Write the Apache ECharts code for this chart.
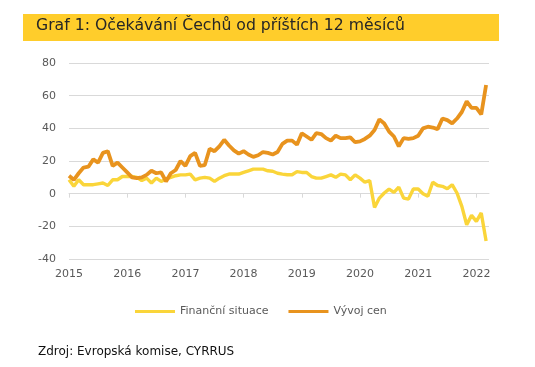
<!DOCTYPE html>
<html>
<head>
<meta charset="utf-8">
<script src="https://cdn.jsdelivr.net/npm/echarts@6/dist/echarts.min.js"></script>
<style>
html,body{margin:0;padding:0;background:#fff;}
#chart{width:535px;height:367px;}
</style>
</head>
<body>
<div id="chart"></div>
<script>
// Monthly data, Jan 2015 – Mar 2022
const startYear = 2015;
const yearLabels = [2015, 2016, 2017, 2018, 2019, 2020, 2021, 2022];
const yTicks = [-40, -20, 0, 20, 40, 60, 80];

const financniSituace = [
  8.5, 4.5, 8.5, 5.5, 5.5, 5.5, 6, 6.5, 5, 8.5, 8.5, 10.5,
  10.5, 10.5, 10, 8, 9.5, 6.5, 9.5, 7.5, 9, 10, 11, 11.5,
  11.5, 12, 8.5, 9.5, 10, 9.5, 7.5, 9.5, 11, 12, 12, 12,
  13, 14, 15, 15, 15, 14, 13.7, 12.5, 12, 11.6, 11.6, 13.5,
  13, 13, 10.5, 9.5, 9.5, 10.5, 11.5, 10, 12, 11.5, 8.5, 11.5,
  9.5, 7, 8, -8.5, -2.7, 0.4, 2.8, 0.8, 4, -2.7, -3.3, 2.9,
  2.9, 0, -1.6, 7, 5, 4.5, 3, 5.5, 0.4, -7.8, -19, -13.3,
  -17, -11.8, -29
];

const vyvojCen = [
  11, 8.5, 12.5, 16, 16.5, 21, 19, 25, 26, 17, 19, 16,
  13, 10, 9.5, 10, 11.5, 14, 12.5, 13, 7.5, 12.5, 14.5, 20,
  17, 23, 25, 17, 17.5, 27.5, 26, 29, 33, 29.5, 26.5, 24.5,
  26, 24, 22.5, 23.5, 25.5, 25, 24, 25.5, 30.5, 32.5, 32.5, 30,
  37, 35, 33, 37, 36.5, 34, 32.5, 35.5, 34, 34, 34.5, 31.5,
  32, 33.5, 35.5, 39, 45.5, 43, 38, 35, 29, 34, 33.5, 34,
  35.5, 40, 41, 40.5, 39.5, 46, 45, 43, 46, 50, 56.5, 52.5,
  52.5, 48.5, 66.5
];

const seriesNames = ['Finanční situace', 'Vývoj cen'];

const toPairs = arr => arr.map((v, i) => [i, v]);
const yearTickPositions = yearLabels.map(y => (y - startYear) * 12);

const chart = echarts.init(document.getElementById('chart'), null, {renderer: 'canvas'});
const FONT = 'DejaVu Sans';
const axisCommon = {
  type: 'value',
  min: 0,
  max: 86.6,
  position: 'bottom',
  splitLine: {show: false}
};

chart.setOption({
  backgroundColor: '#ffffff',
  animation: false,
  graphic: [{
    type: 'rect',
    shape: {x: 23, y: 14, width: 476, height: 27},
    style: {fill: '#FFCD2B'},
    z: -1
  }],
  title: [{
    text: 'Graf 1: Očekávání Čechů od příštích 12 měsíců',
    left: 31,
    top: 13,
    textStyle: {fontFamily: FONT, fontSize: 15.7, fontWeight: 'normal', color: '#262626'}
  }, {
    text: 'Zdroj: Evropská komise, CYRRUS',
    left: 33,
    top: 341,
    textStyle: {fontFamily: FONT, fontSize: 12, fontWeight: 'normal', color: '#111111'}
  }],
  legend: {
    data: seriesNames,
    icon: 'rect',
    left: 130,
    top: 301,
    itemWidth: 40,
    itemHeight: 3,
    itemGap: 20,
    textStyle: {fontFamily: FONT, fontSize: 11, color: '#595959'}
  },
  grid: {left: 69, right: 46, top: 63, height: 196, containLabel: false},
  xAxis: [
    Object.assign({}, axisCommon, {
      axisLine: {show: false, onZero: false},
      axisTick: {show: false},
      axisLabel: {
        show: true,
        customValues: yearTickPositions,
        formatter: v => String(startYear + Math.round(v / 12)),
        margin: 10,
        fontFamily: FONT, fontSize: 11, color: '#595959'
      }
    }),
    Object.assign({}, axisCommon, {
      axisLine: {show: true, onZero: true, lineStyle: {color: '#D9D9D9', width: 1}},
      axisTick: {show: true, customValues: yearTickPositions, length: 4, lineStyle: {color: '#D9D9D9'}},
      axisLabel: {show: false}
    })
  ],
  yAxis: {
    type: 'value',
    min: yTicks[0],
    max: yTicks[yTicks.length - 1],
    interval: 20,
    axisLine: {show: false},
    axisTick: {show: false},
    axisLabel: {margin: 13, fontFamily: FONT, fontSize: 11, color: '#595959'},
    splitLine: {lineStyle: {color: '#D9D9D9', width: 1}}
  },
  series: [{
    name: seriesNames[0],
    type: 'line',
    xAxisIndex: 0,
    data: toPairs(financniSituace),
    symbol: 'none',
    lineStyle: {color: '#FAD53A', width: 3.4},
    itemStyle: {color: '#FAD53A'}
  }, {
    name: seriesNames[1],
    type: 'line',
    xAxisIndex: 0,
    data: toPairs(vyvojCen),
    symbol: 'none',
    lineStyle: {color: '#E8931E', width: 3.8},
    itemStyle: {color: '#E8931E'}
  }]
});
</script>
</body>
</html>
